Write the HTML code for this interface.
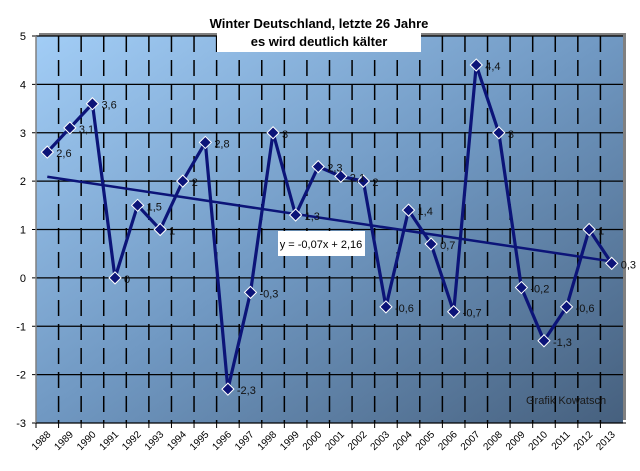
<!DOCTYPE html>
<html><head><meta charset="utf-8"><style>
html,body{margin:0;padding:0;background:#fff;}
svg{display:block;font-family:"Liberation Sans",sans-serif;}
</style></head><body>
<svg id="chart" width="640" height="471" viewBox="0 0 640 471">
<defs>
<linearGradient id="bg" x1="0" y1="0" x2="1" y2="1">
<stop offset="0" stop-color="#a2cdf6"/>
<stop offset="0.5" stop-color="#7098c2"/>
<stop offset="1" stop-color="#46607e"/>
</linearGradient>
</defs>
<rect x="39" y="33" width="587" height="387" fill="#808080"/>
<rect x="36" y="36" width="587" height="387" fill="url(#bg)"/>
<g id="grid"></g>
<g id="axes"></g>
<g id="series"></g>
<g id="labels"></g>
<rect x="217" y="10" width="204" height="42" fill="#fff"/>
<text x="319" y="28" text-anchor="middle" font-size="13" font-weight="bold" fill="#000">Winter Deutschland, letzte 26 Jahre</text>
<text x="319" y="46" text-anchor="middle" font-size="13" font-weight="bold" fill="#000">es wird deutlich kälter</text>
<rect x="278" y="231" width="87" height="25" fill="#fff"/>
<text x="321" y="248" text-anchor="middle" font-size="11" fill="#000">y = -0,07x + 2,16</text>
<text x="526" y="404" font-size="11" fill="#1a1a1a">Grafik Kowatsch</text>
</svg>
<script>
const years = ["1988","1989","1990","1991","1992","1993","1994","1995","1996","1997","1998","1999","2000","2001","2002","2003","2004","2005","2006","2007","2008","2009","2010","2011","2012","2013"];
const values = [2.6,3.1,3.6,0,1.5,1,2,2.8,-2.3,-0.3,3,1.3,2.3,2.1,2,-0.6,1.4,0.7,-0.7,4.4,3,-0.2,-1.3,-0.6,1,0.3];
const valueLabels = ["2,6","3,1","3,6","0","1,5","1","2","2,8","-2,3","-0,3","3","1,3","2,3","2,1","2","-0,6","1,4","0,7","-0,7","4,4","3","-0,2","-1,3","-0,6","1","0,3"];
const yTicks = [5,4,3,2,1,0,-1,-2,-3];
const trendSlope = -0.07;
const trendIntercept = 2.16;

const NS = "http://www.w3.org/2000/svg";
const L = 36, R = 623, T = 36, B = 423, yMin = -3, yMax = 5;
const band = (R - L) / years.length;
const xs = i => L + band * (i + 0.5);
const ys = v => B - (v - yMin) / (yMax - yMin) * (B - T);
function mk(tag, attrs, parent) {
  const e = document.createElementNS(NS, tag);
  for (const k in attrs) e.setAttribute(k, attrs[k]);
  parent.appendChild(e);
  return e;
}
const grid = document.getElementById('grid'), axes = document.getElementById('axes'),
      series = document.getElementById('series'), labels = document.getElementById('labels');

yTicks.forEach(v => {
  const y = ys(v);
  const g = mk('line', {x1: L, x2: R, y1: y, y2: y, stroke: '#000', 'stroke-width': 1.2}, grid);
  
  
  const t = mk('line', {x1: L - 4, x2: L, y1: y, y2: y, stroke: '#000'}, axes);
  
  
  const tx = mk('text', {x: L - 10, y: y + 4, 'text-anchor': 'end', 'font-size': 11, fill: '#000'}, axes);
  tx.textContent = String(v);
  
  
});
for (let i = 1; i < years.length; i++) {
  const x = L + band * i;
  const g = mk('line', {x1: x, x2: x, y1: T, y2: B, stroke: '#000', 'stroke-width': 1.5, 'stroke-dasharray': '16,8'}, grid);
  
  
}
const ya = mk('line', {x1: L, x2: L, y1: T, y2: B, stroke: '#808080', 'stroke-width': 1.5}, axes);


const xa = mk('line', {x1: L, x2: R + 3, y1: B, y2: B, stroke: '#000'}, axes);


years.forEach((yr, i) => {
  const x = L + band * i;
  const t = mk('line', {x1: x, x2: x, y1: B, y2: B + 5, stroke: '#000'}, axes);
  
  
  const cx = xs(i) + 4, cy = B + 12;
  const tx = mk('text', {x: cx, y: cy, 'text-anchor': 'end', 'font-size': 10, fill: '#000', transform: `rotate(-45 ${cx} ${cy})`}, axes);
  tx.textContent = yr;
  
  
});
const trend = mk('line', {x1: xs(0), y1: ys(trendSlope * 1 + trendIntercept), x2: xs(years.length - 1), y2: ys(trendSlope * years.length + trendIntercept), stroke: '#0c1478', 'stroke-width': 2.5}, series);


const line = mk('polyline', {points: values.map((v, i) => xs(i) + ',' + ys(v)).join(' '), fill: 'none', stroke: '#0c1478', 'stroke-width': 3.2}, series);


values.forEach((v, i) => {
  const x = xs(i), y = ys(v), s = 6;
  const m = mk('polygon', {points: `${x},${y - s} ${x + s},${y} ${x},${y + s} ${x - s},${y}`, fill: '#0c1478', stroke: '#fff', 'stroke-width': 1}, series);
  
  
  const tx = mk('text', {x: x + 9, y: y + 5, 'font-size': 11, fill: '#111'}, labels);
  tx.textContent = valueLabels[i];
  
  
});
</script>
</body></html>
